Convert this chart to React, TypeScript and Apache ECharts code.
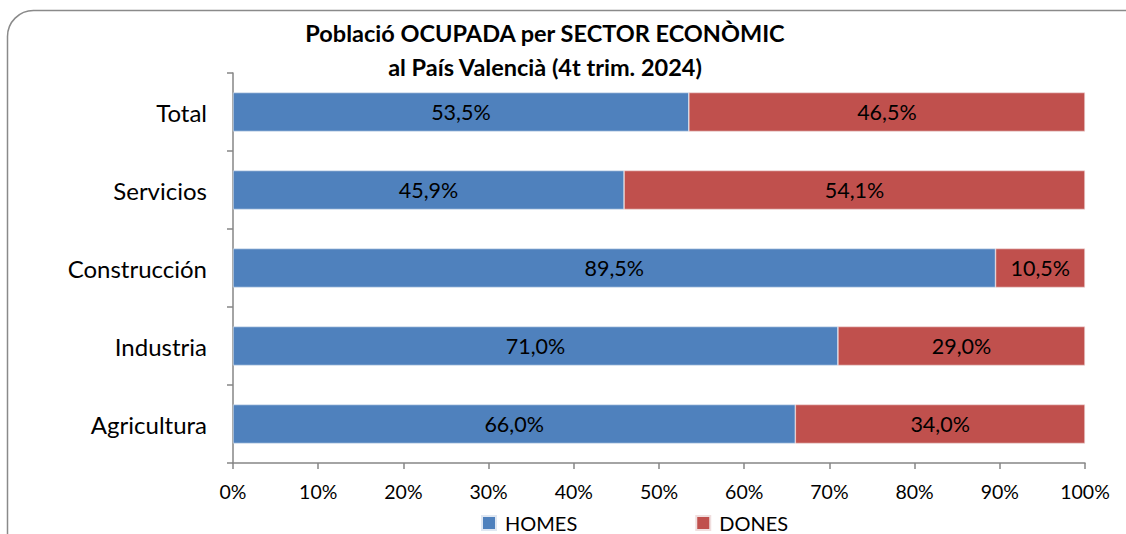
import React, { useEffect, useRef } from "react";
import * as echarts from "echarts";

const categories = ["Total", "Servicios", "Construcción", "Industria", "Agricultura"];
const homes = [53.5, 45.9, 89.5, 71.0, 66.0];
const dones = [46.5, 54.1, 10.5, 29.0, 34.0];
const seriesNames = ["HOMES", "DONES"];
const titleLines = ["Població OCUPADA per SECTOR ECONÒMIC", "al País Valencià (4t trim. 2024)"];

const FONT = "Lato, 'Noto Sans', sans-serif";

export default function App() {
  const ref = useRef<HTMLDivElement>(null);
  useEffect(() => {
    if (!ref.current) return;
    const chart = echarts.init(ref.current, undefined, { renderer: "svg" });
    const fmt = (p: any) => Number(p.value).toFixed(1).replace(".", ",") + "%";
    chart.setOption({
      animation: false,
      textStyle: { fontFamily: FONT },
      title: {
        text: titleLines.join("\n"),
        left: 540,
        textAlign: "center",
        top: 11,
        textStyle: { fontFamily: FONT, fontSize: 23.5, fontWeight: "bold", color: "#000", lineHeight: 34 },
      },
      graphic: [
        {
          type: "rect",
          shape: { x: 7.5, y: 10.5, width: 1150, height: 580, r: 26 },
          style: { fill: "none", stroke: "#8a8a8a", lineWidth: 1.5 },
          silent: true,
          z: -1,
        },
      ],
      legend: {
        left: 481,
        top: 513,
        padding: 0,
        itemWidth: 14,
        itemHeight: 14,
        itemGap: 118,
        icon: "rect",
        data: seriesNames,
        textStyle: { fontFamily: FONT, fontSize: 20, lineHeight: 18, color: "#000", padding: [0, 0, 0, 4] },
      },
      grid: { left: 233, right: 41, top: 73, bottom: 71, containLabel: false },
      xAxis: {
        type: "value",
        min: 0,
        max: 100,
        interval: 10,
        axisLine: { show: true, lineStyle: { color: "#868686", width: 1.5 } },
        axisTick: { show: true, length: 6, lineStyle: { color: "#868686", width: 1.5 } },
        splitLine: { show: false },
        axisLabel: { formatter: "{value}%", color: "#000", fontSize: 19.5, margin: 18, fontFamily: FONT },
      },
      yAxis: {
        type: "category",
        inverse: true,
        data: categories,
        axisLine: { show: true, lineStyle: { color: "#868686", width: 1.5 } },
        axisTick: { show: true, length: 6, lineStyle: { color: "#868686", width: 1.5 } },
        axisLabel: { color: "#000", fontSize: 24, margin: 26, fontFamily: FONT },
      },
      series: [
        {
          name: seriesNames[0],
          type: "bar",
          stack: "total",
          data: homes,
          barWidth: 39,
          itemStyle: { color: "#4F81BD", borderColor: "#dfe7f2", borderWidth: 0.6 },
          label: { show: true, position: "inside", formatter: fmt, color: "#000", fontSize: 21.5, fontFamily: FONT },
        },
        {
          name: seriesNames[1],
          type: "bar",
          stack: "total",
          data: dones,
          barWidth: 39,
          itemStyle: { color: "#C0504D", borderColor: "#f0dede", borderWidth: 0.6 },
          label: { show: true, position: "inside", formatter: fmt, color: "#000", fontSize: 21.5, fontFamily: FONT },
        },
      ],
    });
    return () => chart.dispose();
  }, []);
  return (
    <div
      ref={ref}
      style={{ position: "fixed", left: 0, top: 0, width: 1126, height: 534, background: "#fff" }}
    />
  );
}
